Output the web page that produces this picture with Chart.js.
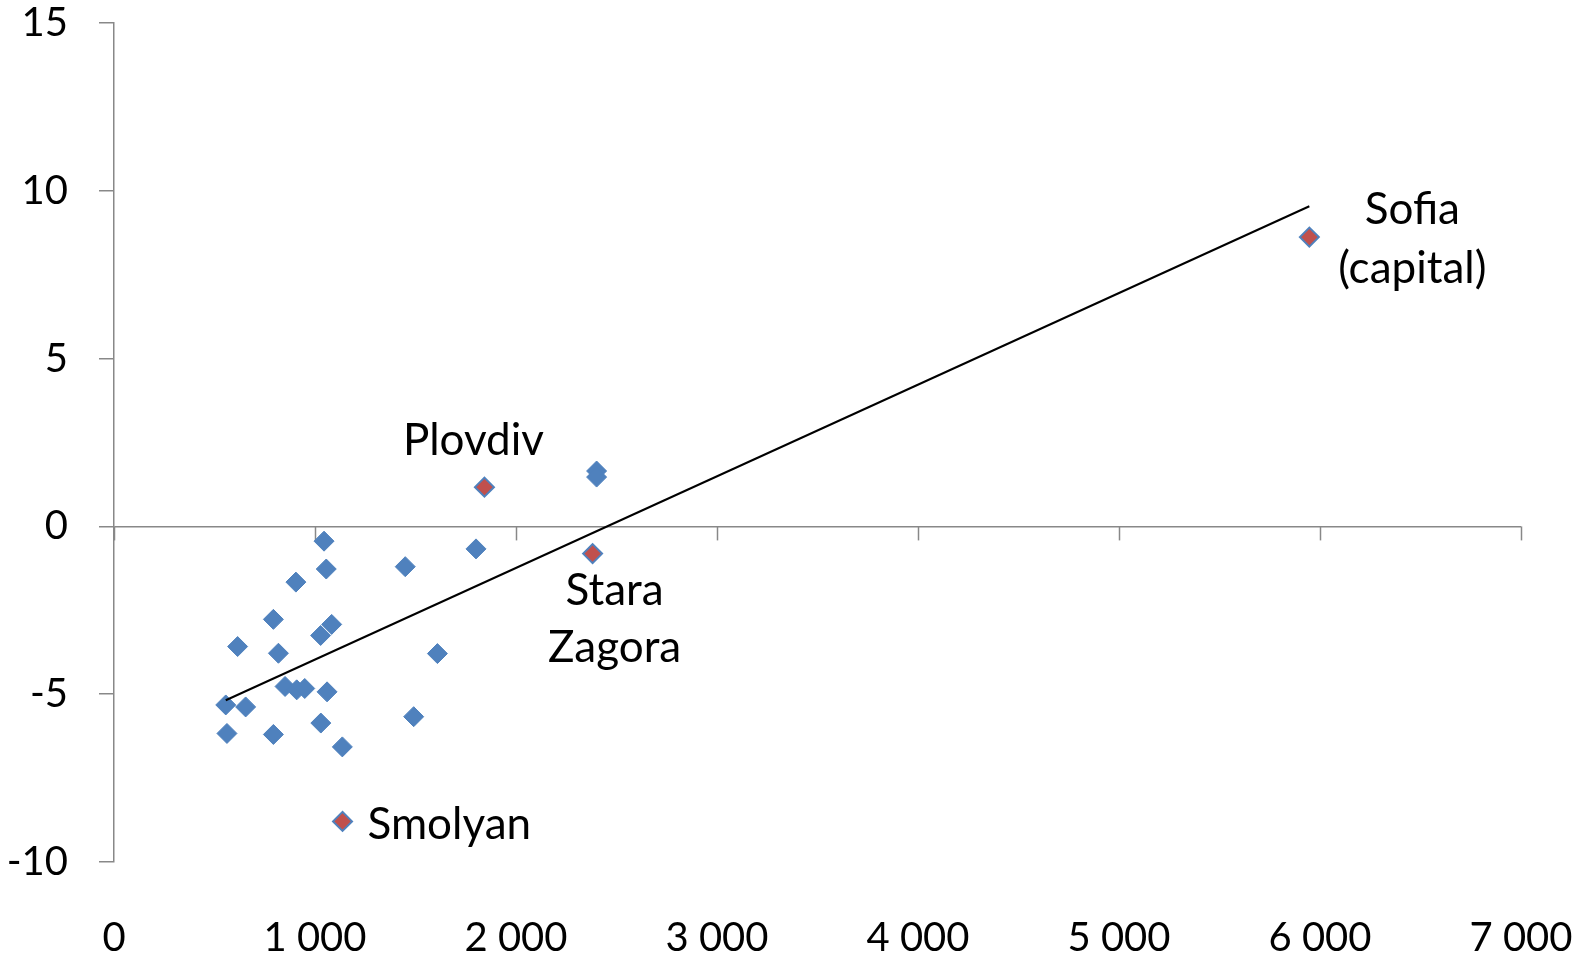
<!DOCTYPE html>
<html>
<head>
<meta charset="utf-8">
<script src="https://cdn.jsdelivr.net/npm/chart.js@4"></script>
<style>
html, body { margin: 0; padding: 0; background: #fff; }
</style>
</head>
<body>
<canvas id="chart" width="1585" height="958"></canvas>
<script>
// regions (blue)
var regionX = [1045, 1056, 905, 1449, 1801, 793, 1083, 1028, 615, 818, 1609, 851, 909, 949, 1060, 556, 655, 562, 793, 1029, 1491, 1136, 2401, 2401];
var regionY = [-0.44, -1.27, -1.66, -1.20, -0.67, -2.77, -2.92, -3.25, -3.58, -3.78, -3.79, -4.77, -4.87, -4.83, -4.93, -5.32, -5.38, -6.17, -6.20, -5.86, -5.67, -6.57, 1.65, 1.47];

// named regions (red)
var namedLabels = [["Plovdiv"], ["Sofia", "(capital)"], ["Stara", "Zagora"], ["Smolyan"]];
var namedX = [1843, 5947, 2381, 1137];
var namedY = [1.17, 8.62, -0.81, -8.79];

// trend line ends
var trendX = [556, 5947];
var trendY = [-5.18, 9.54];

var xTickLabels = ["0", "1 000", "2 000", "3 000", "4 000", "5 000", "6 000", "7 000"];
var yTicks = [-10, -5, 0, 5, 10, 15];

var axisGrey = "#888888";
var fontFamily = "Lato, 'Open Sans', sans-serif";

function toPoints(xs, ys) {
  var pts = [];
  for (var i = 0; i < xs.length; i++) pts.push({ x: xs[i], y: ys[i] });
  return pts;
}

// x ticks hanging off the zero line
var zeroTicks = {
  id: "zeroTicks",
  beforeDatasetsDraw: function (chart) {
    var ctx = chart.ctx;
    var xs = chart.scales.x, ys = chart.scales.y;
    var y0 = ys.getPixelForValue(0);
    ctx.save();
    ctx.strokeStyle = axisGrey;
    ctx.lineWidth = 1.5;
    for (var i = 0; i < xTickLabels.length; i++) {
      var px = Math.round(xs.getPixelForValue(i * 1000)) + 0.5;
      ctx.beginPath();
      ctx.moveTo(px, y0);
      ctx.lineTo(px, y0 + 14);
      ctx.stroke();
    }
    ctx.restore();
  }
};

// text next to the red points
var labelOffsets = [
  { dx: -11, dy: [-46], align: "center" },
  { dx: 103, dy: [-27, 32], align: "center" },
  { dx: 22, dy: [37, 94], align: "center" },
  { dx: 25, dy: [3], align: "left" }
];
var pointLabels = {
  id: "pointLabels",
  afterDatasetsDraw: function (chart) {
    var ctx = chart.ctx;
    var xs = chart.scales.x, ys = chart.scales.y;
    ctx.save();
    ctx.font = "44px " + fontFamily;
    ctx.fillStyle = "#000";
    ctx.textBaseline = "middle";
    for (var i = 0; i < namedLabels.length; i++) {
      var px = xs.getPixelForValue(namedX[i]);
      var py = ys.getPixelForValue(namedY[i]);
      var o = labelOffsets[i];
      ctx.textAlign = o.align;
      for (var j = 0; j < namedLabels[i].length; j++) {
        ctx.fillText(namedLabels[i][j], px + o.dx, py + o.dy[j]);
      }
    }
    ctx.restore();
  }
};

var ctx = document.getElementById("chart").getContext("2d");
var myChart = new Chart(ctx, {
  type: "scatter",
  data: {
    datasets: [
      {
        label: "Trend",
        type: "line",
        data: toPoints(trendX, trendY),
        borderColor: "#000",
        borderWidth: 2,
        pointRadius: 0,
        fill: false
      },
      {
        label: "Named",
        data: toPoints(namedX, namedY),
        pointStyle: "rectRot",
        pointRadius: 9.5,
        pointBackgroundColor: "#C0504D",
        pointBorderColor: "#4F81BD",
        pointBorderWidth: 2
      },
      {
        label: "Regions",
        data: toPoints(regionX, regionY),
        pointStyle: "rectRot",
        pointRadius: 10,
        pointBackgroundColor: "#4F81BD",
        pointBorderColor: "#4F81BD",
        pointBorderWidth: 1
      }
    ]
  },
  options: {
    responsive: false,
    animation: false,
    layout: { padding: { top: 0, right: 64, bottom: 0, left: 0 } },
    plugins: {
      legend: { display: false },
      tooltip: { enabled: false }
    },
    scales: {
      x: {
        type: "linear",
        min: 0,
        max: 7000,
        afterFit: function (s) { s.height = 96; s.paddingLeft = 0; s.paddingRight = 0; },
        border: { display: false },
        grid: { display: false, drawTicks: false },
        ticks: {
          stepSize: 1000,
          padding: 52,
          color: "#000",
          font: { family: fontFamily, size: 40 },
          maxRotation: 0,
          callback: function (v) { return xTickLabels[v / 1000]; }
        }
      },
      y: {
        type: "linear",
        min: -10,
        max: 15,
        afterFit: function (s) { s.width = 114; s.paddingTop = 23; s.paddingBottom = 0; },
        afterBuildTicks: function (s) { s.ticks = yTicks.map(function (v) { return { value: v }; }); },
        border: { display: true, color: axisGrey, width: 1.5 },
        grid: {
          color: function (c) { return c.tick && c.tick.value === 0 ? axisGrey : "rgba(0,0,0,0)"; },
          lineWidth: 1.5,
          tickColor: axisGrey,
          tickLength: 15
        },
        ticks: {
          padding: 31,
          color: "#000",
          font: { family: fontFamily, size: 40, lineHeight: 1.0 }
        }
      }
    }
  },
  plugins: [zeroTicks, pointLabels]
});
</script>
</body>
</html>
